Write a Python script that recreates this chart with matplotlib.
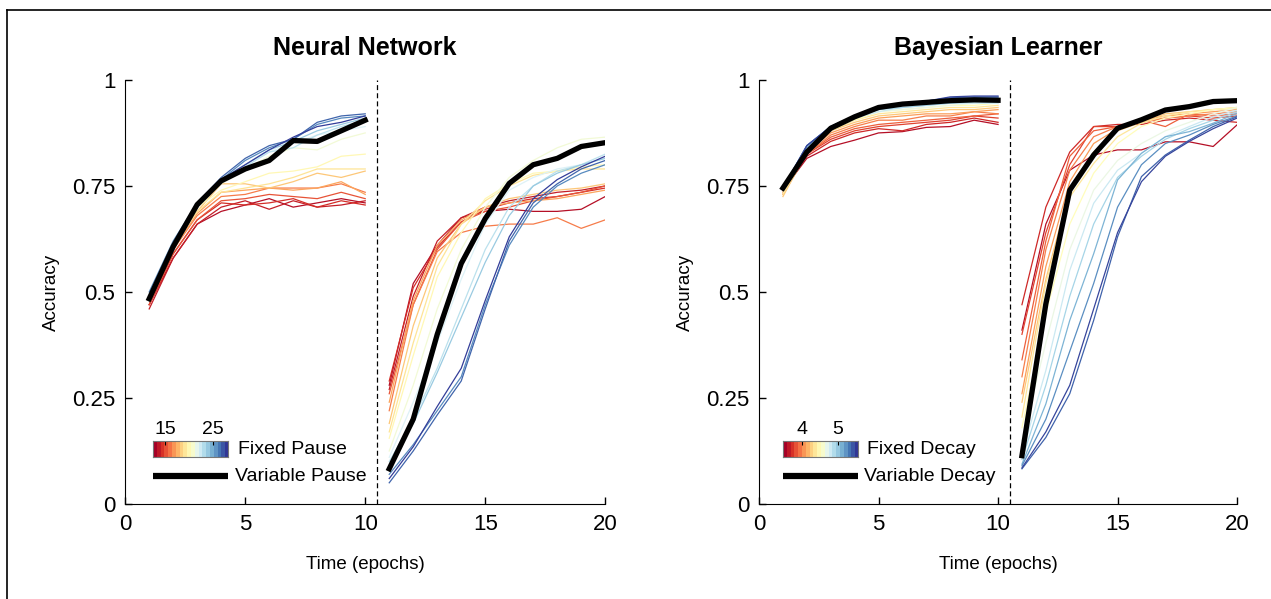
import numpy as np
import matplotlib
matplotlib.use("Agg")
import matplotlib.pyplot as plt
from matplotlib.lines import Line2D

plt.rcParams['font.family'] = ['Liberation Sans', 'DejaVu Sans']

epochs_pre = [1, 2, 3, 4, 5, 6, 7, 8, 9, 10]
epochs_post = [11, 12, 13, 14, 15, 16, 17, 18, 19, 20]

# ---- Neural network: fixed pause lengths (colour level) and accuracy per epoch
nn_levels = [13, 13.5, 14, 15, 16, 17, 18, 19, 20, 21, 22, 23, 24, 26, 27, 28]
nn_fixed = [
    [0.47, 0.58, 0.66, 0.69, 0.705, 0.72, 0.70, 0.71, 0.72, 0.71,
     0.28, 0.52, 0.61, 0.675, 0.69, 0.695, 0.69, 0.69, 0.695, 0.725],
    [0.46, 0.58, 0.66, 0.70, 0.715, 0.695, 0.715, 0.70, 0.705, 0.715,
     0.27, 0.49, 0.62, 0.675, 0.70, 0.715, 0.725, 0.735, 0.74, 0.75],
    [0.47, 0.59, 0.67, 0.71, 0.705, 0.71, 0.72, 0.70, 0.715, 0.705,
     0.29, 0.51, 0.605, 0.665, 0.695, 0.71, 0.72, 0.725, 0.735, 0.745],
    [0.47, 0.59, 0.67, 0.715, 0.72, 0.73, 0.725, 0.72, 0.735, 0.72,
     0.26, 0.47, 0.60, 0.665, 0.69, 0.70, 0.715, 0.725, 0.735, 0.75],
    [0.48, 0.60, 0.68, 0.725, 0.73, 0.745, 0.745, 0.745, 0.755, 0.735,
     0.22, 0.47, 0.595, 0.64, 0.655, 0.66, 0.66, 0.675, 0.65, 0.67],
    [0.48, 0.60, 0.685, 0.735, 0.74, 0.745, 0.74, 0.745, 0.76, 0.73,
     0.24, 0.48, 0.61, 0.67, 0.70, 0.71, 0.715, 0.72, 0.73, 0.74],
    [0.48, 0.61, 0.69, 0.755, 0.755, 0.745, 0.76, 0.78, 0.77, 0.785,
     0.19, 0.42, 0.58, 0.66, 0.70, 0.72, 0.73, 0.74, 0.745, 0.755],
    [0.48, 0.61, 0.69, 0.735, 0.745, 0.755, 0.77, 0.79, 0.79, 0.79,
     0.17, 0.38, 0.56, 0.66, 0.715, 0.75, 0.775, 0.785, 0.79, 0.79],
    [0.48, 0.61, 0.70, 0.74, 0.76, 0.78, 0.785, 0.795, 0.82, 0.825,
     0.155, 0.35, 0.535, 0.64, 0.72, 0.755, 0.78, 0.785, 0.795, 0.80],
    [0.49, 0.61, 0.70, 0.755, 0.79, 0.82, 0.84, 0.835, 0.86, 0.875,
     0.125, 0.28, 0.46, 0.60, 0.70, 0.77, 0.81, 0.84, 0.86, 0.865],
    [0.49, 0.61, 0.70, 0.76, 0.80, 0.83, 0.85, 0.87, 0.88, 0.89,
     0.11, 0.24, 0.38, 0.53, 0.66, 0.74, 0.77, 0.79, 0.80, 0.815],
    [0.49, 0.61, 0.70, 0.76, 0.795, 0.83, 0.84, 0.87, 0.89, 0.905,
     0.10, 0.20, 0.32, 0.46, 0.60, 0.70, 0.75, 0.785, 0.80, 0.825],
    [0.49, 0.61, 0.71, 0.765, 0.80, 0.835, 0.855, 0.88, 0.895, 0.91,
     0.09, 0.19, 0.31, 0.44, 0.57, 0.68, 0.75, 0.78, 0.80, 0.815],
    [0.50, 0.62, 0.71, 0.765, 0.81, 0.84, 0.86, 0.895, 0.91, 0.915,
     0.07, 0.14, 0.22, 0.30, 0.47, 0.61, 0.70, 0.75, 0.78, 0.80],
    [0.49, 0.61, 0.71, 0.77, 0.815, 0.845, 0.86, 0.90, 0.915, 0.92,
     0.05, 0.125, 0.21, 0.29, 0.46, 0.62, 0.71, 0.755, 0.79, 0.81],
    [0.48, 0.61, 0.70, 0.765, 0.80, 0.835, 0.865, 0.89, 0.90, 0.915,
     0.06, 0.135, 0.23, 0.32, 0.48, 0.63, 0.72, 0.765, 0.795, 0.82],
]
nn_variable = [0.484, 0.607, 0.706, 0.762, 0.79, 0.81, 0.857, 0.855, 0.88, 0.905,
               0.083, 0.20, 0.40, 0.567, 0.673, 0.756, 0.80, 0.815, 0.843, 0.852]

# ---- Bayesian learner: fixed decay (colour level) and accuracy per epoch
bl_levels = [3.55, 3.65, 3.75, 3.85, 3.95, 4.05, 4.2, 4.35, 4.5, 4.65, 4.8,
             4.95, 5.1, 5.25, 5.4, 5.5]
bl_fixed = [
    [0.74, 0.815, 0.843, 0.858, 0.875, 0.878, 0.888, 0.89, 0.905, 0.895,
     0.41, 0.66, 0.787, 0.823, 0.835, 0.835, 0.854, 0.854, 0.843, 0.894],
    [0.74, 0.82, 0.855, 0.875, 0.885, 0.88, 0.895, 0.90, 0.91, 0.90,
     0.47, 0.70, 0.83, 0.89, 0.895, 0.895, 0.905, 0.91, 0.905, 0.90],
    [0.735, 0.825, 0.86, 0.88, 0.89, 0.895, 0.90, 0.905, 0.915, 0.91,
     0.40, 0.64, 0.80, 0.89, 0.89, 0.90, 0.91, 0.915, 0.91, 0.915],
    [0.735, 0.825, 0.865, 0.885, 0.895, 0.90, 0.905, 0.91, 0.915, 0.92,
     0.34, 0.62, 0.82, 0.88, 0.89, 0.905, 0.89, 0.92, 0.915, 0.92],
    [0.73, 0.825, 0.87, 0.89, 0.905, 0.905, 0.915, 0.915, 0.925, 0.92,
     0.30, 0.60, 0.787, 0.866, 0.89, 0.90, 0.91, 0.915, 0.92, 0.925],
    [0.73, 0.83, 0.875, 0.895, 0.91, 0.915, 0.92, 0.92, 0.925, 0.93,
     0.26, 0.56, 0.76, 0.85, 0.885, 0.905, 0.915, 0.92, 0.925, 0.93],
    [0.725, 0.83, 0.88, 0.90, 0.915, 0.92, 0.925, 0.93, 0.93, 0.935,
     0.24, 0.53, 0.74, 0.83, 0.88, 0.90, 0.92, 0.925, 0.93, 0.935],
    [0.73, 0.83, 0.88, 0.905, 0.92, 0.925, 0.93, 0.935, 0.935, 0.94,
     0.205, 0.52, 0.724, 0.803, 0.866, 0.898, 0.915, 0.925, 0.93, 0.933],
    [0.735, 0.835, 0.885, 0.905, 0.925, 0.93, 0.935, 0.94, 0.94, 0.945,
     0.18, 0.45, 0.66, 0.78, 0.85, 0.89, 0.91, 0.92, 0.93, 0.935],
    [0.74, 0.835, 0.885, 0.91, 0.925, 0.93, 0.935, 0.94, 0.945, 0.945,
     0.15, 0.38, 0.60, 0.74, 0.81, 0.85, 0.88, 0.90, 0.92, 0.935],
    [0.74, 0.835, 0.885, 0.91, 0.925, 0.935, 0.94, 0.945, 0.945, 0.945,
     0.118, 0.315, 0.551, 0.709, 0.787, 0.827, 0.866, 0.89, 0.913, 0.929],
    [0.74, 0.84, 0.89, 0.91, 0.93, 0.935, 0.94, 0.945, 0.948, 0.948,
     0.105, 0.28, 0.49, 0.66, 0.77, 0.82, 0.86, 0.885, 0.905, 0.925],
    [0.745, 0.84, 0.89, 0.915, 0.93, 0.94, 0.945, 0.95, 0.95, 0.952,
     0.094, 0.236, 0.433, 0.59, 0.764, 0.827, 0.866, 0.878, 0.898, 0.921],
    [0.745, 0.845, 0.89, 0.915, 0.935, 0.94, 0.948, 0.955, 0.958, 0.958,
     0.09, 0.20, 0.36, 0.52, 0.70, 0.80, 0.85, 0.87, 0.895, 0.915],
    [0.745, 0.845, 0.89, 0.915, 0.935, 0.942, 0.95, 0.958, 0.96, 0.96,
     0.083, 0.157, 0.26, 0.433, 0.63, 0.772, 0.823, 0.858, 0.89, 0.913],
    [0.745, 0.845, 0.89, 0.915, 0.935, 0.945, 0.95, 0.96, 0.962, 0.962,
     0.085, 0.17, 0.28, 0.46, 0.64, 0.76, 0.82, 0.855, 0.885, 0.91],
]
bl_variable = [0.745, 0.83, 0.886, 0.913, 0.935, 0.943, 0.947, 0.951, 0.953, 0.952,
               0.114, 0.472, 0.74, 0.823, 0.886, 0.906, 0.929, 0.937, 0.949, 0.951]

cmap = plt.get_cmap("RdYlBu")

fig = plt.figure(figsize=(12.71, 5.99), dpi=100)
ax1 = fig.add_axes([0.0985, 0.1586, 0.3777, 0.708])
ax2 = fig.add_axes([0.5972, 0.1586, 0.3761, 0.708])

# border lines of the figure panel
fig.add_artist(Line2D([0.0055, 1.0], [0.983, 0.983], color="black", lw=1.2))
fig.add_artist(Line2D([0.0055, 0.0055], [0.0, 0.983], color="black", lw=1.2))


def draw_panel(ax, title, levels, fixed, variable, vmin, vmax, cticks, fixed_lbl, var_lbl, cb_x):
    norm = plt.Normalize(vmin, vmax)
    for lev, row in zip(levels, fixed):
        c = cmap(norm(lev))
        ax.plot(epochs_pre, row[:10], color=c, lw=0.9)
        ax.plot(epochs_post, row[10:], color=c, lw=0.9)
    ax.plot(epochs_pre, variable[:10], color="black", lw=3.8, zorder=5)
    ax.plot(epochs_post, variable[10:], color="black", lw=3.8, zorder=5)
    ax.axvline(10.5, color="black", lw=0.9, ls=(0, (4, 2.5)))

    ax.set_xlim(0, 20)
    ax.set_ylim(0, 1)
    ax.set_xticks([0, 5, 10, 15, 20])
    ax.set_yticks([0, 0.25, 0.5, 0.75, 1])
    ax.set_yticklabels(["0", "0.25", "0.5", "0.75", "1"])
    ax.tick_params(direction="in", length=5, width=1, labelsize=16, pad=7)
    for s in ["top", "right"]:
        ax.spines[s].set_visible(False)
    ax.set_title(title, fontsize=18, fontweight="bold", pad=18)
    ax.set_xlabel("Time (epochs)", fontsize=13.5, labelpad=15)
    ax.set_ylabel("Accuracy", fontsize=13.5, labelpad=9)

    # colour bar legend entry
    cax = ax.inset_axes([cb_x, 0.111, 0.157, 0.038])
    grad = np.linspace(vmin, vmax, 20).reshape(1, -1)
    cax.imshow(grad, cmap=cmap, norm=norm, aspect="auto",
               extent=[vmin, vmax, 0, 1], interpolation="nearest")
    cax.set_yticks([])
    cax.set_xticks(cticks)
    cax.xaxis.tick_top()
    cax.tick_params(axis="x", direction="in", length=3, labelsize=14, pad=2)
    for s in cax.spines.values():
        s.set_color("#777777")
        s.set_linewidth(0.8)
    ax.text(cb_x + 0.176, 0.128, fixed_lbl, transform=ax.transAxes,
            fontsize=14, va="center", ha="left")
    ax.plot([cb_x, cb_x + 0.157], [0.066, 0.066], transform=ax.transAxes,
            color="black", lw=4.5, solid_capstyle="butt")
    ax.text(cb_x + 0.17, 0.064, var_lbl, transform=ax.transAxes,
            fontsize=14, va="center", ha="left")


draw_panel(ax1, "Neural Network", nn_levels, nn_fixed, nn_variable,
           12.5, 28.2, [15, 25], "Fixed Pause", "Variable Pause", 0.058)
draw_panel(ax2, "Bayesian Learner", bl_levels, bl_fixed, bl_variable,
           3.48, 5.55, [4, 5], "Fixed Decay", "Variable Decay", 0.050)

fig.savefig("out.png", dpi=100)
